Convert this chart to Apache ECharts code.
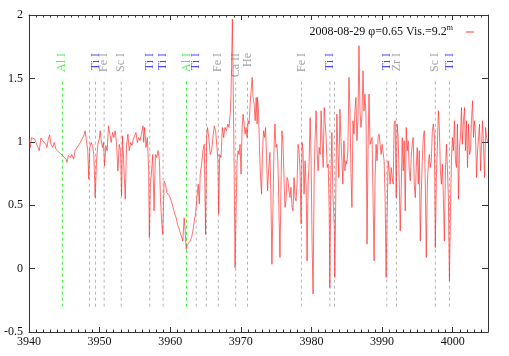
<!DOCTYPE html>
<html><head><meta charset="utf-8">
<script src="https://cdn.jsdelivr.net/npm/echarts@6/dist/echarts.min.js"></script>
<style>html,body{margin:0;padding:0;background:#fff}#c{width:509px;height:356px}</style>
</head><body><div id="c"></div>
<script>
const seriesName = '2008-08-29 φ=0.65 Vis.=9.2';
const xTickRange = [3940, 4005];
const yTickRange = [-0.5, 2];

// [wavelength (Å), relative flux]
const spectrumBlue = [
[3940.03,1.02],[3940.17,0.955],[3940.36,1.034],[3940.64,1.047],[3940.83,1.02],[3940.98,0.995],[3941.21,0.98],[3941.45,0.93],[3941.69,1.03],[3941.92,1.01],
[3942.16,1.02],[3942.40,0.98],[3942.54,0.955],[3942.73,1.02],[3942.92,1.055],[3943.11,0.98],[3943.35,0.955],[3943.58,0.995],[3943.82,0.94],[3944.06,0.955],
[3944.29,0.915],[3944.53,0.915],[3944.77,0.89],[3945.01,0.876],[3945.24,0.863],[3945.38,0.837],[3945.57,0.89],[3945.86,0.876],[3946.05,0.9],[3946.33,0.863],
[3946.52,0.93],[3946.81,0.955],[3947.00,0.97],[3947.28,0.995],[3947.47,1.02],[3947.76,1.047],[3947.95,1.087],[3948.13,1.01],[3948.32,0.93],[3948.47,0.705],
[3948.61,0.955],[3948.80,0.995],[3948.99,0.97],[3949.18,0.9],[3949.37,0.56],[3949.56,0.85],[3949.75,0.98],[3949.94,1.02],[3950.08,1.087],[3950.22,1.01],
[3950.41,0.955],[3950.55,0.995],[3950.70,0.81],[3950.88,0.97],[3951.07,0.93],[3951.26,1.126],[3951.45,1.06],[3951.64,0.995],[3951.83,1.074],[3952.02,1.034],
[3952.21,1.087],[3952.40,0.98],[3952.59,0.77],[3952.78,0.98],[3952.97,0.93],[3953.11,0.574],[3953.25,1.047],[3953.45,1.034],[3953.63,0.547],[3953.82,0.98],
[3954.01,1.06],[3954.20,0.93],[3954.39,0.995],[3954.58,0.97],[3954.77,1.02],[3954.96,1.047],[3955.15,1.074],[3955.34,0.995],[3955.53,1.034],[3955.72,1.01],
[3955.91,1.06],[3956.15,1.126]
];
const spectrumHK = [
[3956.24,0.995],[3956.38,1.113],[3956.57,0.955],[3956.76,1.034],[3956.95,0.77],[3957.04,0.245],[3957.19,0.666],[3957.33,0.745],[3957.52,0.9],[3957.71,0.455],
[3957.9,0.9],[3958.09,0.876],[3958.28,0.93],[3958.47,0.85],[3958.61,0.56],[3958.8,0.35],[3958.94,0.27],[3959.13,0.69],[3959.32,0.666],[3959.51,0.6],
[3959.7,0.6],[3959.89,0.574],[3960.08,0.56],[3960.27,0.51],[3960.46,0.52],[3960.65,0.43],[3960.84,0.40],[3961.03,0.35],[3961.22,0.32],[3961.41,0.284],
[3961.6,0.297],[3961.78,0.218],[3961.97,0.40],[3962.12,0.297],[3962.26,0.153],[3962.45,0.19],[3962.64,0.18],[3962.83,0.218],[3963.02,0.245],[3963.21,0.297],
[3963.4,0.376],[3963.59,0.43],[3963.78,0.56],[3963.97,0.666],[3964.11,0.51],[3964.25,0.745],[3964.44,0.82],[3964.63,0.93],[3964.82,0.98],[3965.01,0.27],
[3965.15,1.034],[3965.29,1.113],[3965.48,1.02],[3965.67,0.9],[3965.86,0.93],[3966.05,1.034],[3966.24,1.126],[3966.43,1.087],[3966.62,0.955],[3966.76,0.85],
[3966.86,0.43],[3967.0,0.9],[3967.19,0.876],[3967.38,1.113],[3967.57,1.034],[3967.76,1.113],[3967.95,1.087],[3968.14,1.14],[3968.33,1.113],[3968.52,1.245],
[3968.61,1.376],[3968.71,1.666],[3968.8,1.968],[3968.9,1.508],[3969.04,0.85],[3969.18,0.008],[3969.32,0.455],[3969.47,0.85],[3969.61,0.93],[3969.75,0.9],
[3969.89,0.98],[3970.03,0.745],[3970.18,1.113],[3970.32,1.218],[3970.46,1.14],[3970.6,1.06],[3970.75,1.113],[3970.89,1.034],[3971.03,1.166],[3971.17,1.14],
[3971.32,1.297],[3971.46,1.403],[3971.6,1.508],[3971.74,1.35],[3971.88,1.297],[3972.03,1.166],[3972.17,1.35],[3972.31,1.14]
];
const spectrumMid = [
[3972.36,1.35],[3972.5,1.245],[3972.65,0.93],[3972.79,0.718],[3972.93,0.587],[3973.07,0.93],[3973.22,1.087],[3973.36,1.034],[3973.5,1.113],[3973.64,0.876],
[3973.78,0.613],[3973.93,0.771],[3974.12,0.916],[3974.26,0.56],[3974.4,0.034],[3974.54,0.455],[3974.69,0.93],[3974.83,1.14],[3974.97,0.955],[3975.11,0.98],
[3975.25,0.85],[3975.4,0.455],[3975.54,0.087],[3975.68,0.613],[3975.82,1.087],[3975.97,0.98],[3976.11,0.718],[3976.25,0.482],[3976.39,0.534],[3976.53,0.718],
[3976.68,0.692],[3976.82,0.613],[3976.96,0.56],[3977.1,0.64],[3977.25,0.482],[3977.39,0.455],[3977.53,0.718],[3977.67,0.56],[3977.82,0.534],[3977.96,0.666],
[3978.1,0.98],[3978.24,0.93],[3978.38,0.771],[3978.53,0.35],[3978.67,0.995],[3978.81,0.93],[3978.95,0.587],[3979.1,0.85],[3979.24,0.666],[3979.38,0.06],
[3979.52,0.666],[3979.66,0.824],[3979.81,1.19],[3979.95,0.85],[3980.09,0.192],[3980.23,-0.2],[3980.38,0.718],[3980.52,1.034],[3980.66,1.245],[3980.8,0.93],
[3980.94,0.771],[3981.09,0.955],[3981.23,0.9],[3981.37,1.245],[3981.51,1.008],[3981.66,0.797],[3981.8,1.27],[3981.94,1.284],[3982.08,1.034],[3982.22,0.797],
[3982.37,0.824],[3982.51,0.455],[3982.6,-0.15],[3982.75,0.718],[3982.89,1.074],[3983.03,0.587],[3983.22,0.35],[3983.31,-0.07],[3983.46,0.666],[3983.6,1.218],
[3983.74,0.93],[3983.88,0.718],[3984.03,1.258],[3984.17,1.034],[3984.31,0.85],[3984.45,0.666],[3984.6,1.008],[3984.74,0.771],[3984.88,0.85],[3985.02,0.824],
[3985.16,0.93],[3985.31,1.508],[3985.45,1.245],[3985.59,0.771],[3985.73,0.482],[3985.88,1.166],[3986.02,1.06],[3986.16,1.245],[3986.3,1.35],[3986.44,1.008],
[3986.59,1.19],[3986.73,1.758],[3986.87,1.245],[3987.01,1.113],[3987.16,1.218],[3987.3,1.56],[3987.44,1.245],[3987.58,1.376],[3987.73,1.19],[3987.87,0.192],
[3988.01,0.93],[3988.15,1.376],[3988.29,0.98]
];
const spectrumRed = [
[3988.58,1.034],[3988.72,0.56],[3988.87,0.06],[3989.01,0.718],[3989.15,0.98],[3989.29,0.85],[3989.44,1.034],[3989.58,1.06],[3989.72,0.98],[3989.86,0.9],
[3990.0,0.98],[3990.15,0.995],[3990.29,0.85],[3990.43,0.56],[3990.57,-0.07],[3990.72,0.455],[3990.86,0.85],[3991.0,0.771],[3991.14,0.666],[3991.28,0.797],
[3991.43,0.718],[3991.57,0.666],[3991.71,1.14],[3991.85,1.166],[3992.0,0.56],[3992.14,1.14],[3992.28,1.034],[3992.42,0.718],[3992.57,0.297],[3992.71,0.613],
[3992.85,1.034],[3992.99,0.771],[3993.13,1.008],[3993.28,0.455],[3993.42,1.113],[3993.56,0.93],[3993.7,1.008],[3993.85,0.771],[3993.99,0.692],[3994.13,0.876],
[3994.27,0.98],[3994.41,1.034],[3994.56,0.666],[3994.7,0.56],[3994.84,0.797],[3994.98,0.955],[3995.13,0.666],[3995.27,0.93],[3995.41,0.218],[3995.55,0.587],
[3995.69,0.85],[3995.84,1.034],[3995.98,1.087],[3996.12,0.666],[3996.26,0.087],[3996.41,0.666],[3996.55,0.824],[3996.69,0.9],[3996.83,0.797],[3996.97,0.85],
[3997.12,1.087],[3997.26,1.14],[3997.4,1.06],[3997.54,0.166],[3997.69,0.718],[3997.83,0.955],[3997.97,1.245],[3998.11,1.113],[3998.26,0.771],[3998.4,0.666],
[3998.54,0.824],[3998.68,0.56],[3998.82,0.218],[3998.97,0.771],[3999.11,0.98],[3999.25,0.797],[3999.39,0.56],[3999.54,-0.097],[3999.68,0.455],[3999.82,0.85],
[3999.96,1.034],[4000.1,0.93],[4000.25,1.166],[4000.39,0.85],[4000.53,0.797],[4000.67,1.14],[4000.82,0.547],[4000.96,0.955],[4001.1,1.034],[4001.24,1.27],
[4001.38,0.98],[4001.53,1.166],[4001.67,1.27],[4001.81,0.93],[4001.95,1.166],[4002.1,0.797],[4002.24,1.14],[4002.38,0.9],[4002.52,0.93],[4002.66,1.166],
[4002.81,1.324],[4002.95,1.034],[4003.09,1.166],[4003.23,1.06],[4003.38,0.718],[4003.52,0.93],[4003.66,1.034],[4003.8,1.14],[4003.95,0.771],[4004.09,0.98],
[4004.23,1.166],[4004.37,0.955],[4004.51,0.718],[4004.66,1.113],[4004.8,1.034],[4004.95,1.0]
];

// identified lines
const lineWave  = [3944.72,3948.56,3949.42,3950.64,3953.06,3957.10,3958.99,3962.30,3963.68,3965.11,3966.81,3969.27,3970.94,3978.58,3982.60,3983.27,3990.67,3992.03,3997.54,3999.53];
const lineLabel = ['Al I','','Ti I','Fe I','Sc I','Ti I','Ti I','Al I','Ti I','','Fe I','Ca II','He','Fe I','Ti I','','Ti I','Zr I','Sc I','Ti I'];
const lineKind  = ['Al','x','Ti','o','o','Ti','Ti','Al','Ti','x','o','o','o','o','Ti','x','Ti','o','o','Ti'];
const lineSpan  = [-0.3, 1.5];
const labelTopY = 1.70;

const spectrum = spectrumBlue.concat(spectrumHK, spectrumMid, spectrumRed);
const FONT = '"Liberation Serif","DejaVu Serif",serif';
const lineColor = k => k === 'Al' ? '#33ee33' : '#b4b4b4';
const textColor = k => k === 'Al' ? '#22ee22' : (k === 'Ti' ? '#1a1aff' : '#8a8a8a');

const series = [];
lineWave.forEach((w, i) => {
  series.push({
    type: 'line', xAxisIndex: 0, yAxisIndex: 0, silent: true, showSymbol: false, z: 1,
    data: [[w, lineSpan[0]], [w, lineSpan[1]]],
    lineStyle: { color: lineColor(lineKind[i]), width: 1, type: [3, 3] }
  });
});
series.push({
  type: 'scatter', xAxisIndex: 0, yAxisIndex: 0, silent: true, symbolSize: 0, z: 3,
  data: lineWave.map((w, i) => ({
    value: [w, labelTopY], name: lineLabel[i],
    label: { color: textColor(lineKind[i]) }
  })).filter(d => d.name !== ''),
  label: {
    show: true, formatter: p => p.name, position: [0, 0], rotate: 90,
    align: 'right', verticalAlign: 'middle', fontFamily: FONT, fontSize: 12
  }
});
series.push({
  name: seriesName, type: 'line', xAxisIndex: 0, yAxisIndex: 0, data: spectrum,
  showSymbol: false, z: 5, silent: true,
  lineStyle: { color: '#ff2a2a', width: 0.9, opacity: 0.75 },
  itemStyle: { color: '#ff7a7a' }
});

const axisCol = '#333';
function xAx(pos, major, labels) {
  return {
    type: 'value', min: xTickRange[0], max: xTickRange[1], interval: major ? 10 : 1,
    position: pos,
    axisLine: { show: major, onZero: false, lineStyle: { color: axisCol, width: 1 } },
    axisTick: { show: true, inside: true, length: major ? 5 : 2.5, lineStyle: { color: axisCol } },
    axisLabel: { show: labels, showMaxLabel: false, formatter: v => String(v), fontFamily: FONT, fontSize: 12, color: '#111', margin: 4 },
    splitLine: { show: false }
  };
}
function yAx(pos, labels) {
  return {
    type: 'value', min: yTickRange[0], max: yTickRange[1], interval: 0.5, position: pos,
    axisLine: { show: true, onZero: false, lineStyle: { color: axisCol, width: 1 } },
    axisTick: { show: true, inside: true, length: 6, lineStyle: { color: axisCol } },
    axisLabel: { show: labels, fontFamily: FONT, fontSize: 12, color: '#111', margin: 6 },
    splitLine: { show: false }
  };
}

const chart = echarts.init(document.getElementById('c'), null, { renderer: 'canvas' });
chart.setOption({
  animation: false,
  backgroundColor: '#fff',
  grid: { left: 29, right: 21, top: 15, bottom: 24, containLabel: false },
  legend: {
    data: [seriesName], right: 30, top: 19, align: 'right', icon: 'rect',
    itemWidth: 8, itemHeight: 1.5, itemStyle: { color: '#ff7a7a' },
    formatter: n => n + '{sup|m}',
    textStyle: {
      fontFamily: FONT, fontSize: 12, color: '#111', padding: [0, 8, 0, 0],
      rich: { sup: { fontFamily: FONT, fontSize: 8, padding: [0, 0, 8, 0], color: '#111' } }
    }
  },
  xAxis: [xAx('bottom', true, true), xAx('bottom', false, false), xAx('top', true, false), xAx('top', false, false)],
  yAxis: [yAx('left', true), yAx('right', false)],
  series: series
});
</script>
</body></html>
